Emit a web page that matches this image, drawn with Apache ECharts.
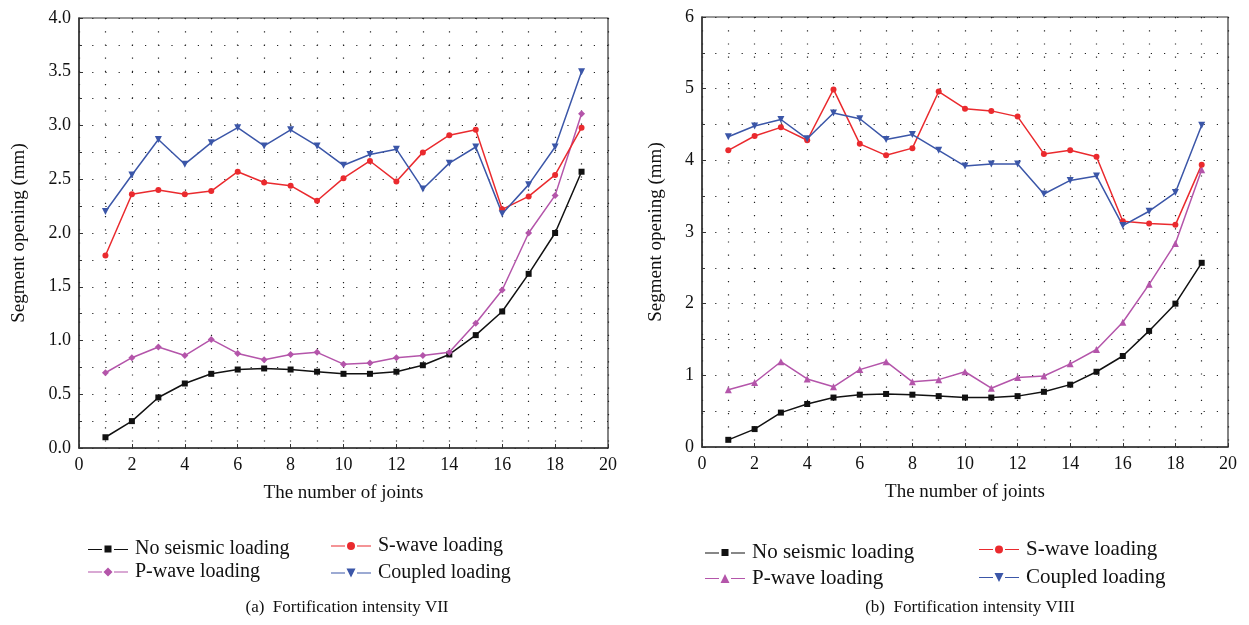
<!DOCTYPE html>
<html>
<head>
<meta charset="utf-8">
<script src="https://cdn.jsdelivr.net/npm/echarts@6/dist/echarts.min.js"></script>
<style>
  html, body { margin: 0; padding: 0; background: #fff; }
  #container { width: 1249px; height: 625px; }
</style>
</head>
<body>
<div id="container"></div>
<script>
var joints = [1, 2, 3, 4, 5, 6, 7, 8, 9, 10, 11, 12, 13, 14, 15, 16, 17, 18, 19];

// (a) Fortification intensity VII
var noSeismicA = [0.10, 0.25, 0.47, 0.60, 0.69, 0.73, 0.74, 0.73, 0.71, 0.69, 0.69, 0.71, 0.77, 0.87, 1.05, 1.27, 1.62, 2.00, 2.57];
var pWaveA     = [0.70, 0.84, 0.94, 0.86, 1.01, 0.88, 0.82, 0.87, 0.89, 0.78, 0.79, 0.84, 0.86, 0.89, 1.16, 1.47, 2.00, 2.35, 3.11];
var sWaveA     = [1.79, 2.36, 2.40, 2.36, 2.39, 2.57, 2.47, 2.44, 2.30, 2.51, 2.67, 2.48, 2.75, 2.91, 2.96, 2.22, 2.34, 2.54, 2.98];
var coupledA   = [2.20, 2.54, 2.87, 2.64, 2.84, 2.98, 2.81, 2.96, 2.81, 2.63, 2.73, 2.78, 2.41, 2.65, 2.80, 2.18, 2.45, 2.80, 3.50];

// (b) Fortification intensity VIII
var noSeismicB = [0.10, 0.25, 0.48, 0.60, 0.69, 0.73, 0.74, 0.73, 0.71, 0.69, 0.69, 0.71, 0.77, 0.87, 1.05, 1.27, 1.62, 2.00, 2.57];
var pWaveB     = [0.80, 0.90, 1.19, 0.95, 0.84, 1.08, 1.19, 0.91, 0.94, 1.05, 0.82, 0.97, 0.99, 1.16, 1.36, 1.74, 2.27, 2.84, 3.87];
var sWaveB     = [4.14, 4.34, 4.46, 4.28, 4.99, 4.23, 4.07, 4.17, 4.96, 4.72, 4.69, 4.61, 4.09, 4.14, 4.05, 3.15, 3.12, 3.10, 3.94];
var coupledB   = [4.33, 4.48, 4.57, 4.30, 4.66, 4.58, 4.29, 4.36, 4.14, 3.92, 3.95, 3.95, 3.53, 3.72, 3.78, 3.09, 3.29, 3.55, 4.49];

var names = ['No seismic loading', 'P-wave loading', 'S-wave loading', 'Coupled loading'];
var captions = ['(a)  Fortification intensity VII', '(b)  Fortification intensity VIII'];

var FONT = '"Liberation Serif", "DejaVu Serif", serif';
var C_BLACK = '#111111', C_RED = '#ea2a2e', C_MAG = '#b455aa', C_BLUE = '#3b56a8';

// legend icons: line - marker - line
var ICON_SQUARE = 'path://M0,6.4h14v1.2H0z M16.5,3h7v7h-7z M26,6.4h14v1.2H26z';
var ICON_CIRCLE = 'path://M0,6.4h14v1.2H0z M24,7a4,4 0 1,1 -8,0a4,4 0 1,1 8,0z M26,6.4h14v1.2H26z';
var ICON_DIAMOND = 'path://M0,6.4h14v1.2H0z M20,2.5L24.5,7L20,11.5L15.5,7z M26,6.4h14v1.2H26z';
var ICON_TRI_UP = 'path://M0,6.4h14v1.2H0z M20,2.5L24.5,11.5L15.5,11.5z M26,6.4h14v1.2H26z';
var ICON_TRI_DOWN = 'path://M0,6.4h14v1.2H0z M15.5,2.5L24.5,2.5L20,11.5z M26,6.4h14v1.2H26z';

function pairs(ys) {
    return joints.map(function (x, i) { return [x, ys[i]]; });
}

function dotted() {
    return { show: true, lineStyle: { color: '#222', width: 1.2, type: [1.2, 12] } };
}

function xAxis(gridIndex) {
    return {
        gridIndex: gridIndex, type: 'value', min: 0, max: 20, interval: 2,
        name: 'The number of joints', nameLocation: 'middle', nameGap: 36,
        nameTextStyle: { fontFamily: FONT, fontSize: 19, color: '#111' },
        axisLine: { lineStyle: { color: '#333', width: 1.5 } },
        axisTick: { inside: true, length: 4, lineStyle: { color: '#333' } },
        minorTick: { show: false, splitNumber: 2 },
        axisLabel: { fontFamily: FONT, fontSize: 18, color: '#111', margin: 8 },
        splitLine: dotted(),
        minorSplitLine: dotted()
    };
}

function yAxis(gridIndex, max, interval, fmt, gap) {
    return {
        gridIndex: gridIndex, type: 'value', min: 0, max: max, interval: interval,
        name: 'Segment opening (mm)', nameLocation: 'middle', nameGap: gap,
        nameTextStyle: { fontFamily: FONT, fontSize: 19, color: '#111' },
        axisLine: { lineStyle: { color: '#333', width: 1.5 } },
        axisTick: { inside: true, length: 4, lineStyle: { color: '#333' } },
        minorTick: { show: true, splitNumber: 2, length: 3, lineStyle: { color: '#333' } },
        axisLabel: {
            fontFamily: FONT, fontSize: 18, color: '#111', margin: 8,
            formatter: function (v) { return fmt ? v.toFixed(1) : String(v); }
        },
        splitLine: dotted(),
        minorSplitLine: dotted()
    };
}

function line(name, idx, data, color, symbol, size, rotate) {
    return {
        name: name, type: 'line', xAxisIndex: idx, yAxisIndex: idx,
        data: pairs(data), color: color,
        symbol: symbol, symbolSize: size, symbolRotate: rotate || 0,
        showSymbol: true, animation: false,
        lineStyle: { width: 1.5, color: color },
        itemStyle: { color: color }
    };
}

function legend(left, top, gap, size, items) {
    return {
        orient: 'vertical', left: left, top: top,
        itemWidth: 40, itemHeight: 10, itemGap: gap,
        textStyle: { fontFamily: FONT, fontSize: size, color: '#111', padding: [0, 0, 0, 2] },
        data: items
    };
}

var option = {
    backgroundColor: '#fff',
    animation: false,
    title: [
        { text: captions[0], left: 342, top: 594, textAlign: 'center',
          textStyle: { fontFamily: FONT, fontSize: 17, fontWeight: 'normal', color: '#111' } },
        { text: captions[1], left: 965, top: 594, textAlign: 'center',
          textStyle: { fontFamily: FONT, fontSize: 17, fontWeight: 'normal', color: '#111' } }
    ],
    grid: [
        { left: 79, right: 641, top: 18, bottom: 177, show: true, borderColor: '#333', borderWidth: 1.2 },
        { left: 702, right: 21, top: 17, bottom: 178, show: true, borderColor: '#333', borderWidth: 1.2 }
    ],
    xAxis: [xAxis(0), xAxis(1)],
    yAxis: [yAxis(0, 4, 0.5, true, 50), yAxis(1, 6, 1, false, 36)],
    legend: [
        legend(83, 534, 3, 20, [{ name: names[0], icon: ICON_SQUARE }, { name: names[1], icon: ICON_DIAMOND }]),
        legend(326, 531, 7, 20, [{ name: names[2], icon: ICON_CIRCLE }, { name: names[3], icon: ICON_TRI_DOWN }]),
        legend(700, 537, 5, 21, [{ name: names[0], icon: ICON_SQUARE }, { name: names[1], icon: ICON_TRI_UP }]),
        legend(974, 534, 7, 21, [{ name: names[2], icon: ICON_CIRCLE }, { name: names[3], icon: ICON_TRI_DOWN }])
    ],
    series: [
        line(names[0], 0, noSeismicA, C_BLACK, 'rect', 6),
        line(names[1], 0, pWaveA, C_MAG, 'diamond', 7),
        line(names[2], 0, sWaveA, C_RED, 'circle', 6),
        line(names[3], 0, coupledA, C_BLUE, 'triangle', 7, 180),
        line(names[0], 1, noSeismicB, C_BLACK, 'rect', 6),
        line(names[1], 1, pWaveB, C_MAG, 'triangle', 7),
        line(names[2], 1, sWaveB, C_RED, 'circle', 6),
        line(names[3], 1, coupledB, C_BLUE, 'triangle', 7, 180)
    ]
};

var myChart = echarts.init(document.getElementById('container'), null, { renderer: 'canvas' });
myChart.setOption(option);
</script>
</body>
</html>
